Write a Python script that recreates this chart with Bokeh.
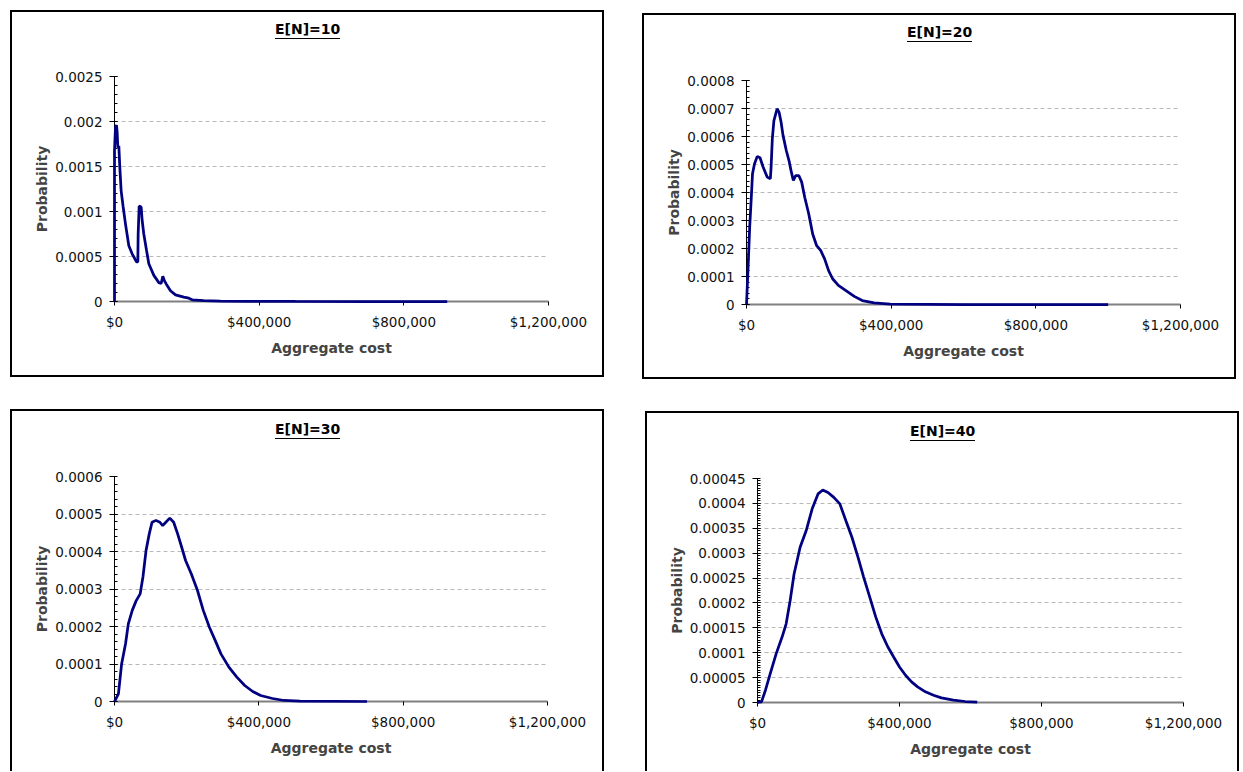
import numpy as np
from bokeh.plotting import figure
from bokeh.models import FixedTicker, Spacer, Range1d, InlineStyleSheet, Title
from bokeh.layouts import row, column
from bokeh.embed import file_html
from bokeh.resources import INLINE

# ---------------- data ----------------
titles = ["E[N]=10", "E[N]=20", "E[N]=30", "E[N]=40"]
x_label = "Aggregate cost"
y_label = "Probability"
x_ticks = [0, 400000, 800000, 1200000]
x_tick_labels = ["$0", "$400,000", "$800,000", "$1,200,000"]

y_ticks_10 = [0, 0.0005, 0.001, 0.0015, 0.002, 0.0025]
y_labels_10 = ["0", "0.0005", "0.001", "0.0015", "0.002", "0.0025"]
y_ticks_20 = [0, 0.0001, 0.0002, 0.0003, 0.0004, 0.0005, 0.0006, 0.0007, 0.0008]
y_labels_20 = ["0", "0.0001", "0.0002", "0.0003", "0.0004", "0.0005", "0.0006", "0.0007", "0.0008"]
y_ticks_30 = [0, 0.0001, 0.0002, 0.0003, 0.0004, 0.0005, 0.0006]
y_labels_30 = ["0", "0.0001", "0.0002", "0.0003", "0.0004", "0.0005", "0.0006"]
y_ticks_40 = [0, 0.00005, 0.0001, 0.00015, 0.0002, 0.00025, 0.0003, 0.00035, 0.0004, 0.00045]
y_labels_40 = ["0", "0.00005", "0.0001", "0.00015", "0.0002", "0.00025", "0.0003", "0.00035", "0.0004", "0.00045"]

cost_10 = [0, 0, 2800, 5500, 7400, 9200, 12000, 14700, 18400, 24000, 30400, 39600, 48800,
           60800, 64500, 65400, 68200, 73700, 76500, 81000, 88500, 94900, 108800, 122600,
           129000, 133600, 138000, 143800, 154800, 168700, 191700, 205600, 214800, 247000,
           293000, 367000, 500000, 700000, 920000]
prob_10 = [0, 0.00168, 0.00194, 0.00196, 0.00188, 0.00171, 0.00173, 0.00149, 0.00123, 0.00105,
           0.00086, 0.00062, 0.00053, 0.00044, 0.00044, 0.00075, 0.00106, 0.00105, 0.00090,
           0.00075, 0.00057, 0.00042, 0.00029, 0.00021, 0.00020, 0.00028, 0.00023, 0.00019,
           0.00012, 0.000074, 0.000048, 0.000037, 0.000019, 0.000011, 0.000005, 0.000002,
           0.0000005, 0, 0]

cost_20 = [0, 4400, 8800, 13300, 16600, 22000, 29700, 37400, 46200, 57200, 66000, 68000,
           71400, 75800, 84600, 90000, 95700, 101000, 110000, 117500, 123000, 129500, 136000,
           145000, 152600, 161000, 172000, 183000, 194000, 205000, 216000, 227000, 238000,
           254000, 277000, 298000, 320000, 353000, 397000, 600000, 1000000]
prob_20 = [0, 0.000133, 0.000276, 0.000383, 0.000467, 0.000502, 0.000529, 0.000524, 0.00049,
           0.000455, 0.000449, 0.00049, 0.000592, 0.000657, 0.000699, 0.000687, 0.000651,
           0.000604, 0.00055, 0.000514, 0.000479, 0.000443, 0.00046, 0.00046, 0.000437,
           0.000383, 0.000324, 0.000252, 0.00021, 0.000193, 0.000163, 0.000121, 0.000092,
           0.000068, 0.000048, 0.000029, 0.000014, 0.000006, 0.000001, 0, 0]

cost_30 = [0, 10900, 19700, 30600, 38300, 49200, 60200, 71100, 78800, 87500, 96300, 104000,
           114900, 125800, 133500, 142200, 153200, 164000, 175000, 186000, 197000, 213000,
           230000, 246000, 263000, 279000, 295000, 317000, 339000, 361000, 383000, 405000,
           438000, 470000, 514000, 700000]
prob_30 = [0, 0.0000204, 0.0001, 0.000154, 0.000207, 0.000243, 0.000269, 0.000287, 0.000332,
           0.000403, 0.000447, 0.000478, 0.000483, 0.000478, 0.000469, 0.000478, 0.000489,
           0.000478, 0.000447, 0.000412, 0.000376, 0.00034, 0.000296, 0.000243, 0.000198,
           0.000163, 0.000127, 0.0000916, 0.0000649, 0.0000427, 0.0000267, 0.000016,
           0.000008, 0.0000027, 0.0000009, 0]

cost_40 = [0, 11200, 22400, 35900, 52700, 69500, 80700, 92000, 103000, 120000, 137000,
           154000, 170500, 184000, 198500, 215000, 232000, 249000, 266000, 283000, 299000,
           316000, 333000, 350000, 367000, 383500, 400000, 417000, 434000, 451000, 473000,
           496000, 518000, 552000, 585000, 619000]
prob_40 = [0, 0.0000013, 0.0000247, 0.0000581, 0.0000982, 0.000132, 0.000158, 0.000205,
           0.000258, 0.000312, 0.000345, 0.000389, 0.000419, 0.000427, 0.000422, 0.000412,
           0.000399, 0.000365, 0.000332, 0.000292, 0.000252, 0.000212, 0.000172, 0.000138,
           0.000112, 0.0000915, 0.0000714, 0.0000548, 0.0000414, 0.0000314, 0.0000214,
           0.0000147, 0.0000093, 0.0000047, 0.000002, 0.0000007]

# ---------------- style ----------------
LINE = "#000080"
FONT = "DejaVu Sans"
TITLE_W = 65


def make_panel(title, xs, ys, yticks, ylabels, n_minor, w, h, fl, fr, ft, fb, closed, tc):
    ymax = yticks[-1]
    cx = w / 2.0
    bottom_rule = "border-bottom: 2px solid #000;" if closed else "border-bottom: none;"
    css = (
        ":host::before { content: ''; position: absolute; left: 0px; top: 0px; "
        f"width: {w}px; height: {h}px; box-sizing: border-box; "
        f"border: 2px solid #000; {bottom_rule} pointer-events: none; z-index: 50; }}"
        ":host::after { content: ''; position: absolute; "
        f"left: {cx - TITLE_W / 2.0}px; top: {tc + 7.5}px; width: {TITLE_W}px; height: 1.5px; "
        "background: #000; pointer-events: none; z-index: 51; }"
    )
    p = figure(width=w, height=h, output_backend="svg", toolbar_location=None,
               x_range=Range1d(0, x_ticks[-1]), y_range=Range1d(0, ymax),
               min_border_left=fl, min_border_right=fr, min_border_top=ft,
               min_border_bottom=fb, stylesheets=[InlineStyleSheet(css=css)])
    p.outline_line_color = None
    p.background_fill_color = "white"
    p.border_fill_color = "white"

    r = p.line(xs, ys, line_color=LINE, line_width=2.75)
    r.level = "overlay"

    # chart title, centred on the whole chart box
    p.title.text = title
    p.title.text_font = FONT
    p.title.text_font_size = "14px"
    p.title.text_font_style = "bold"
    p.title.text_color = "black"
    p.title.align = "left"
    p.title.vertical_align = "bottom"
    p.title.offset = (cx - TITLE_W / 2.0) - fl
    p.title.standoff = 4

    # blank spacer between frame and title, so that the title sits near the box top
    gap_size = ft - 9 - tc
    spacer = Title(text=" ", text_font=FONT, text_font_size="10px",
                   standoff=max(gap_size - 12, 0), align="left")
    p.add_layout(spacer, "above")

    # x axis
    xa = p.xaxis[0]
    xa.ticker = FixedTicker(ticks=x_ticks)
    xa.major_label_overrides = dict(zip(x_ticks, x_tick_labels))
    xa.axis_line_color = "#808080"
    xa.axis_line_width = 2
    xa.major_tick_line_color = "black"
    xa.major_tick_out = 4
    xa.major_tick_in = 0
    xa.minor_tick_out = 0
    xa.minor_tick_in = 0
    xa.major_label_text_font = FONT
    xa.major_label_text_font_size = "13.5px"
    xa.major_label_text_color = "#111111"
    xa.major_label_standoff = 8
    xa.axis_label = x_label
    xa.axis_label_text_font = FONT
    xa.axis_label_text_font_size = "14px"
    xa.axis_label_text_font_style = "bold"
    xa.axis_label_standoff = 7

    # y axis
    step = yticks[1] - yticks[0]
    minor = list(np.arange(0, n_minor * (len(yticks) - 1) + 1) * (step / n_minor))
    ya = p.yaxis[0]
    ya.ticker = FixedTicker(ticks=yticks, minor_ticks=minor)
    ya.major_label_overrides = dict(zip(yticks, ylabels))
    ya.axis_line_color = "black"
    ya.axis_line_width = 1
    ya.major_tick_line_color = "black"
    ya.minor_tick_line_color = "black"
    ya.major_tick_out = 5
    ya.major_tick_in = 3
    ya.minor_tick_out = 0
    ya.minor_tick_in = 3
    ya.major_label_text_font = FONT
    ya.major_label_text_font_size = "13.5px"
    ya.major_label_text_color = "#111111"
    ya.major_label_standoff = 7
    ya.axis_label = y_label
    ya.axis_label_text_font = FONT
    ya.axis_label_text_font_size = "14px"
    ya.axis_label_text_font_style = "bold"
    ya.axis_label_standoff = 2

    # grid
    p.xgrid.grid_line_color = None
    p.ygrid.grid_line_color = "#b8b8b8"
    p.ygrid.grid_line_dash = "4 3"
    p.ygrid.grid_line_width = 1
    return p


# panels: canvas boxes at (10,10), (642,13), (10,409), (645,411)
p1 = make_panel(titles[0], cost_10, prob_10, y_ticks_10, y_labels_10, 5,
                594, 367, 104, 56, 66, 76, True, 20)
p2 = make_panel(titles[1], cost_20, prob_20, y_ticks_20, y_labels_20, 5,
                594, 366, 104, 56, 67, 75, True, 20)
p3 = make_panel(titles[2], cost_30, prob_30, y_ticks_30, y_labels_30, 5,
                594, 362, 104, 57, 67, 70, False, 21)
p4 = make_panel(titles[3], cost_40, prob_40, y_ticks_40, y_labels_40, 10,
                594, 360, 112, 56, 67, 69, False, 21)

top = row(Spacer(width=10, height=10), column(Spacer(width=10, height=10), p1),
          Spacer(width=38, height=10), column(Spacer(width=10, height=13), p2))
bottom = row(Spacer(width=10, height=10), column(Spacer(width=10, height=30), p3),
             Spacer(width=41, height=10), column(Spacer(width=10, height=32), p4))
layout = column(top, bottom)

open("out.html", "w").write(file_html(layout, INLINE))
